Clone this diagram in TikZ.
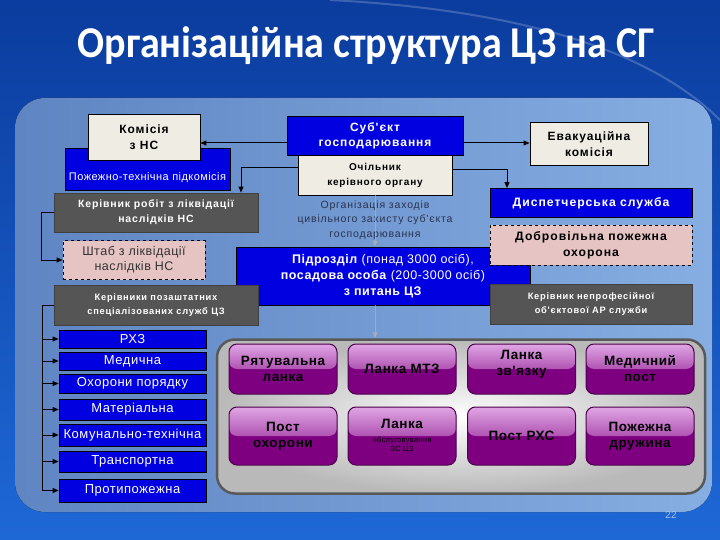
\documentclass[tikz,border=0pt]{standalone}
\usepackage{fontspec}
\setmainfont{Liberation Sans}
\newfontfamily\titlefont{Carlito}
\newfontfamily\boxfont{Liberation Sans}[LetterSpace=8]
\newfontfamily\listfont{Liberation Sans}[LetterSpace=4]
\usetikzlibrary{positioning,arrows.meta,calc}
\definecolor{deepblue}{HTML}{0B3C9E}
\definecolor{brightblue}{HTML}{1E68D6}
\definecolor{panelleft}{HTML}{5F85C2}
\definecolor{panelright}{HTML}{86AEE2}
\definecolor{boxblue}{HTML}{0000E0}
\definecolor{cream}{HTML}{EFEDE3}
\definecolor{boxgray}{HTML}{555555}
\definecolor{boxpink}{HTML}{E6C4C4}
\definecolor{btnpurple}{HTML}{7E0080}
\definecolor{btnlight}{HTML}{E0A6E4}
\definecolor{orgtext}{HTML}{2A3350}
\definecolor{pagenum}{HTML}{A8C4F0}

\begin{document}
\begin{tikzpicture}[
    x=1pt, y=-1pt,
    base/.style={draw=black, line width=0.8pt, align=center, inner sep=1pt},
    bluebox/.style={base, fill=boxblue, text=white, font=\boxfont\bfseries\fontsize{12}{15}\selectfont},
    creambox/.style={base, fill=cream, text=black, font=\boxfont\bfseries\fontsize{12}{16}\selectfont},
    graybox/.style={base, draw=black!75, fill=boxgray, text=white, font=\boxfont\bfseries\fontsize{10.5}{15}\selectfont},
    pinkbox/.style={base, dashed, fill=boxpink},
    listbox/.style={base, fill=boxblue, text=white, minimum width=147pt, inner sep=0pt, font=\listfont\fontsize{13}{15}\selectfont},
    btn/.style={rounded corners=8pt, draw=btnpurple!60!black, line width=1pt, fill=btnpurple,
      minimum width=108pt, align=center, text=black, font=\listfont\bfseries\fontsize{13.5}{16}\selectfont,
      path picture={\shade[top color=btnlight, bottom color=btnpurple]
        (path picture bounding box.north west) rectangle (path picture bounding box.east);}},
    link/.style={line width=1pt, -{Triangle[length=6pt, width=5pt]}},
  ]
  \useasboundingbox (0,0) rectangle (720,540);
  % background and panel
  \fill[top color=deepblue, bottom color=brightblue] (0,0) rectangle (720,540);
  \draw[white, opacity=0.2, line width=2pt] (330,0) .. controls (520,10) and (650,50) .. (720,120);
  \fill[left color=panelleft, right color=panelright, rounded corners=30pt] (15,98) rectangle (712,512);
  \node[text=white, font=\titlefont\bfseries\fontsize{44}{48}\selectfont, xscale=0.91] (title) at (366,46) {Організаційна структура ЦЗ на СГ};

  % upper block
  \node[bluebox, minimum width=165pt, minimum height=42pt] (pozh) at (147.5,169) {};
  \node[text=white, font=\listfont\fontsize{11}{12}\selectfont] (pozhtxt) at (147.5,178) {Пожежно-технічна підкомісія};
  \node[creambox, minimum width=112pt, minimum height=46pt] (komis) at (144,137) {Комісія\\з НС};
  \node[bluebox, minimum width=176pt, minimum height=39pt] (subj) at (375,135.5) {Суб'єкт\\господарювання};
  \node[creambox, font=\boxfont\bfseries\fontsize{10}{15}\selectfont, minimum width=154pt, minimum height=40pt] (ochil) at (375,175) {Очільник\\керівного органу};
  \node[creambox, minimum width=118pt, minimum height=43pt] (evak) at (589,144) {Евакуаційна\\комісія};
  \node[graybox, minimum width=204pt, minimum height=39pt] (kerrob) at (156,212.5) {Керівник робіт з ліквідації\\наслідків НС};
  \node[text=orgtext, align=center, font=\boxfont\fontsize{10.5}{14.5}\selectfont] (orgtxt) at (375,220) {Організація заходів\\цивільного захисту суб'єкта\\господарювання};
  \node[pinkbox, text=black!80, font=\listfont\fontsize{12.5}{15}\selectfont, minimum width=142pt, minimum height=39pt] (shtab) at (134,260) {Штаб з ліквідації\\наслідків НС};
  \node[bluebox, font=\listfont\fontsize{12.5}{16}\selectfont, minimum width=294pt, minimum height=58pt] (pidr) at (383,276) {\textbf{Підрозділ} (понад 3000 осіб),\\\textbf{посадова особа} (200-3000 осіб)\\\textbf{з питань ЦЗ}};
  \node[bluebox, font=\boxfont\bfseries\fontsize{12.2}{13}\selectfont, minimum width=202pt, minimum height=29pt] (disp) at (591,203) {Диспетчерська служба};
  \node[pinkbox, font=\boxfont\bfseries\fontsize{12.2}{16}\selectfont, minimum width=202pt, minimum height=40pt] (dobr) at (591,245) {Добровільна пожежна\\охорона};
  \node[graybox, font=\boxfont\bfseries\fontsize{9.3}{14}\selectfont, minimum width=204pt, minimum height=40pt] (kerpoz) at (156,305) {Керівники позаштатних\\спеціалізованих служб ЦЗ};
  \node[graybox, font=\boxfont\bfseries\fontsize{9.3}{14}\selectfont, minimum width=202pt, minimum height=40pt] (kerne) at (591,304) {Керівник непрофесійної\\об'єктової АР служби};

  % connectors
  \draw[link] ([yshift=-7.5pt]subj.west) -- ([yshift=-7.5pt]subj.west -| komis.east);
  \draw[link] ([yshift=-7.5pt]subj.east) -- ([yshift=-7.5pt]subj.east -| evak.west);
  \draw[link] ([yshift=7pt]ochil.west) -| ([xshift=85pt]kerrob.north);
  \draw[link] ([yshift=5pt]ochil.east) -| ([xshift=-84pt]disp.north);
  \draw[link] (kerrob.west) -- ++(-12,0) |- (shtab.west);

  % specialised services
  \node[listbox, minimum height=18pt] (rhz) at (132.5,339) {РХЗ};
  \node[listbox, minimum height=18pt] (med) at (132.5,361) {Медична};
  \node[listbox, minimum height=19pt] (ohor) at (132.5,383.5) {Охорони порядку};
  \node[listbox, minimum height=21pt] (mat) at (132.5,409.5) {Матеріальна};
  \node[listbox, minimum height=22pt] (komun) at (132.5,435) {Комунально-технічна};
  \node[listbox, minimum height=21pt] (trans) at (132.5,461.5) {Транспортна};
  \node[listbox, minimum height=23pt] (protyp) at (132.5,490.5) {Протипожежна};
  \coordinate (spine) at (42,305);
  \draw[line width=1pt] (kerpoz.west) -- (spine) -- (spine |- protyp);
  \foreach \n in {rhz,med,ohor,mat,komun,trans,protyp}
    \draw[link] (spine |- \n) -- (\n.west);

  % formations
  \node[draw=gray!70!black, line width=2.5pt, rounded corners=18pt, inner color=white, outer color=gray!55,
    minimum width=488pt, minimum height=154pt] (grpanel) at (461,416.5) {};
  \node[btn, minimum height=50pt] (ryat) at (283,369) {Рятувальна\\ланка};
  \node[btn, minimum height=50pt] (mtz) at (402,369) {Ланка МТЗ};
  \node[btn, minimum height=50pt] (zvyaz) at (521.5,369) {Ланка\\зв'язку\\[-4pt]\mbox{}};
  \node[btn, minimum height=50pt] (medpost) at (640,369) {Медичний\\пост};
  \node[btn, minimum height=58pt] (posth) at (283,436) {Пост\\охорони};
  \node[btn, minimum height=58pt] (obsl) at (402,436) {Ланка\\[-2pt]{\mdseries\fontsize{7.5}{9}\selectfont обслуговування}\\[-7pt]{\mdseries\fontsize{7.5}{9}\selectfont ЗС ЦЗ}};
  \node[btn, minimum height=58pt] (rhs) at (521.5,436) {Пост РХС};
  \node[btn, minimum height=58pt] (pozhdr) at (640,436) {Пожежна\\дружина};

  \draw[link, draw=gray!60, opacity=0.7] (ochil.south) -- (ochil.south |- pidr.north);
  \draw[link, draw=gray!60, opacity=0.7] (ochil.south |- pidr.south) -- (ochil.south |- grpanel.north);

  \node[text=pagenum, font=\fontsize{10}{12}\selectfont] (pnum) at (671,515) {22};
\end{tikzpicture}
\end{document}
